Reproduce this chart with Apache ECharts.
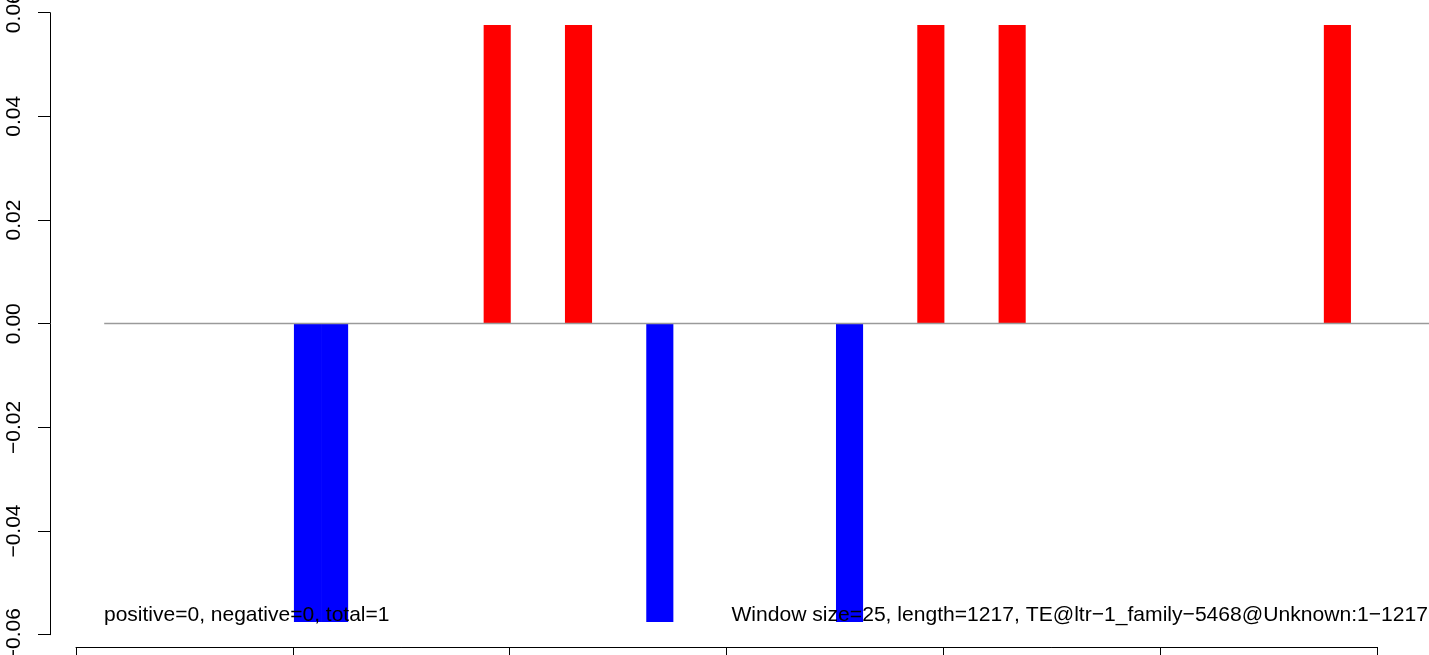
<!DOCTYPE html>
<html>
<head>
<meta charset="utf-8">
<script src="https://cdn.jsdelivr.net/npm/echarts@6/dist/echarts.min.js"></script>
<style>
html,body{margin:0;padding:0;background:#fff;}
#chart{width:1429px;height:655px;}
</style>
</head>
<body>
<div id="chart"></div>
<script>
// Window bars: start, end (sequence position) and value
var winStart = [201, 226, 376, 451, 526, 701, 776, 851, 1151];
var winEnd   = [226, 251, 401, 476, 551, 726, 801, 876, 1176];
var winValue = [-0.0576, -0.0576, 0.0576, 0.0576, -0.0576, -0.0576, 0.0576, 0.0576, 0.0576];
// Zero reference line (sequence range)
var zeroLineX = [26, 1260];
// Axis ticks
var xTicks = [0, 200, 400, 600, 800, 1000, 1200];
var yTicks = [-0.06, -0.04, -0.02, 0.00, 0.02, 0.04, 0.06];
// Annotations
var leftNote = 'positive=0, negative=0, total=1';
var rightNote = 'Window size=25, length=1217, TE@ltr\u22121_family\u22125468@Unknown:1\u22121217';

var FONT = "'Liberation Sans', Arial, Helvetica, sans-serif";
var barData = winStart.map(function (s, i) { return [s, winEnd[i], winValue[i]]; });
var zeroData = zeroLineX.map(function (x) { return [x, 0]; });

function fmtY(v) {
  var r = Math.round(v * 100) / 100;
  var s = Math.abs(r).toFixed(2);
  return (r < 0 ? '\u2212' : '') + s;
}

var chart = echarts.init(document.getElementById('chart'), null, {renderer: 'canvas'});
chart.setOption({
  animation: false,
  backgroundColor: '#ffffff',
  grid: [
    {left: 50, right: 0, top: 0, bottom: 8, containLabel: false, outerBoundsMode: 'none'},
    {left: 76, right: 52, top: 0, bottom: 8, containLabel: false, outerBoundsMode: 'none'},
    {left: 50, right: 0, top: 12.7, bottom: 20.3, containLabel: false, outerBoundsMode: 'none'}
  ],
  xAxis: [
    {gridIndex: 0, type: 'value', min: -24, max: 1248, show: false},
    {gridIndex: 1, type: 'value', min: xTicks[0], max: xTicks[xTicks.length - 1], interval: 200,
     position: 'bottom',
     axisLine: {show: true, onZero: false, lineStyle: {color: '#000', width: 1}},
     axisTick: {show: true, inside: false, length: 12, lineStyle: {color: '#000', width: 1}},
     axisLabel: {show: true, margin: 14, color: '#000', fontSize: 21, fontFamily: FONT,
                 formatter: function (v) { return String(v); }},
     splitLine: {show: false}},
    {gridIndex: 2, type: 'value', min: 0, max: 1, show: false}
  ],
  yAxis: [
    {gridIndex: 0, type: 'value', min: -0.0624, max: 0.0624, show: false},
    {gridIndex: 1, type: 'value', min: -1, max: 1, show: false},
    {gridIndex: 2, type: 'value', min: yTicks[0], max: yTicks[yTicks.length - 1], interval: 0.02,
     position: 'left',
     axisLine: {show: true, onZero: false, lineStyle: {color: '#000', width: 1}},
     axisTick: {show: true, inside: false, length: 12, lineStyle: {color: '#000', width: 1}},
     axisLabel: {show: true, rotate: 90, margin: 25, color: '#000', fontSize: 21, fontFamily: FONT,
                 formatter: fmtY},
     splitLine: {show: false}}
  ],
  series: [
    {
      type: 'custom',
      xAxisIndex: 0, yAxisIndex: 0,
      data: barData,
      z: 2,
      renderItem: function (params, api) {
        var p0 = api.coord([api.value(0), api.value(2)]);
        var p1 = api.coord([api.value(1), 0]);
        var y = Math.min(p0[1], p1[1]);
        var h = Math.abs(p1[1] - p0[1]);
        return {
          type: 'rect',
          shape: {x: p0[0], y: y, width: p1[0] - p0[0], height: h},
          style: {fill: api.value(2) >= 0 ? '#ff0000' : '#0000ff'}
        };
      }
    },
    {
      type: 'line',
      xAxisIndex: 0, yAxisIndex: 0,
      data: zeroData,
      symbol: 'none',
      silent: true,
      z: 3,
      lineStyle: {color: '#9a9a9a', width: 1.3}
    }
  ],
  graphic: [
    {type: 'text', x: 104, y: 615, z: 10, silent: true,
     style: {text: leftNote, font: '21px ' + FONT, fill: '#000', textAlign: 'left', textVerticalAlign: 'middle'}},
    {type: 'text', x: 1428, y: 615, z: 10, silent: true,
     style: {text: rightNote, font: '21.1px ' + FONT, fill: '#000', textAlign: 'right', textVerticalAlign: 'middle'}}
  ]
});
</script>
</body>
</html>
